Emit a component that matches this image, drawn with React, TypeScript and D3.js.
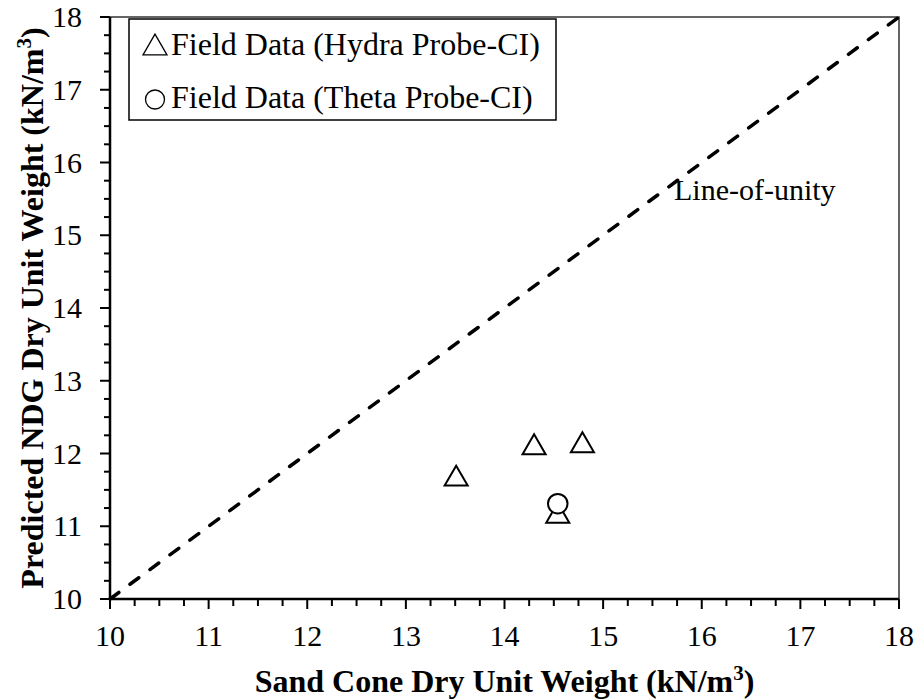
import { useRef, useEffect } from "react";
import * as d3 from "d3";

const hydraX = [13.51, 14.3, 14.79, 14.54];
const hydraY = [11.65, 12.08, 12.11, 11.14];
const thetaX = [14.54];
const thetaY = [11.31];
const xTicks = [10, 11, 12, 13, 14, 15, 16, 17, 18];
const yTicks = [10, 11, 12, 13, 14, 15, 16, 17, 18];
const legendLabels = ["Field Data (Hydra Probe-CI)", "Field Data (Theta Probe-CI)"];

const FONT = "Liberation Serif, Times New Roman, Times, serif";

const App = () => {
  const svgRef = useRef(null);

  useEffect(() => {
    const svg = d3.select(svgRef.current);
    svg.selectAll("*").remove();

    const left = 110, right = 899, top = 17, bottom = 599;
    const x = d3.scaleLinear().domain([10, 18]).range([left, right]);
    const y = d3.scaleLinear().domain([10, 18]).range([bottom, top]);

    // minor + major ticks, outward
    const minor = d3.range(10, 18.001, 0.25);
    svg.append("g").selectAll("line").data(minor).enter().append("line")
      .attr("x1", (d) => x(d)).attr("x2", (d) => x(d))
      .attr("y1", bottom).attr("y2", (d) => bottom + (Number.isInteger(d) ? 10 : 7))
      .attr("stroke", "black").attr("stroke-width", 2);
    svg.append("g").selectAll("line").data(minor).enter().append("line")
      .attr("y1", (d) => y(d)).attr("y2", (d) => y(d))
      .attr("x1", left).attr("x2", (d) => left - (Number.isInteger(d) ? 10 : 6))
      .attr("stroke", "black").attr("stroke-width", 2);

    // frame
    svg.append("rect")
      .attr("x", left).attr("y", top)
      .attr("width", right - left).attr("height", bottom - top)
      .attr("fill", "none").attr("stroke", "#333").attr("stroke-width", 1.5);
    svg.append("line").attr("x1", left).attr("x2", right).attr("y1", bottom).attr("y2", bottom)
      .attr("stroke", "black").attr("stroke-width", 2.5);
    svg.append("line").attr("x1", left).attr("x2", left).attr("y1", top).attr("y2", bottom)
      .attr("stroke", "black").attr("stroke-width", 2.5);

    // tick labels
    svg.append("g").selectAll("text").data(xTicks).enter().append("text")
      .attr("x", (d) => x(d)).attr("y", bottom + 47)
      .attr("text-anchor", "middle")
      .attr("font-family", FONT).attr("font-size", 30)
      .text((d) => d);
    svg.append("g").selectAll("text").data(yTicks).enter().append("text")
      .attr("x", 82).attr("y", (d) => y(d) + 10)
      .attr("text-anchor", "end")
      .attr("font-family", FONT).attr("font-size", 30)
      .text((d) => d);

    // axis titles
    const xt = svg.append("text")
      .attr("x", (left + right) / 2).attr("y", 692)
      .attr("text-anchor", "middle")
      .attr("font-family", FONT).attr("font-size", 32).attr("font-weight", "bold");
    xt.append("tspan").text("Sand Cone Dry Unit Weight (kN/m");
    xt.append("tspan").attr("dy", -12).attr("font-size", 21).text("3");
    xt.append("tspan").attr("dy", 12).text(")");

    const yt = svg.append("text")
      .attr("transform", `translate(43,${(top + bottom) / 2}) rotate(-90)`)
      .attr("text-anchor", "middle")
      .attr("font-family", FONT).attr("font-size", 32).attr("font-weight", "bold");
    yt.append("tspan").text("Predicted NDG Dry Unit Weight (kN/m");
    yt.append("tspan").attr("dy", -12).attr("font-size", 21).text("3");
    yt.append("tspan").attr("dy", 12).text(")");

    // line of unity
    svg.append("line")
      .attr("x1", x(10)).attr("y1", y(10)).attr("x2", x(18)).attr("y2", y(18))
      .attr("stroke", "black").attr("stroke-width", 3.5)
      .attr("stroke-linecap", "round")
      .attr("stroke-dasharray", "11,13.8");
    svg.append("text")
      .attr("x", 674).attr("y", 200)
      .attr("font-family", FONT).attr("font-size", 30)
      .text("Line-of-unity");

    const tri = d3.symbol().type(d3.symbolTriangle).size(230);
    const circ = d3.symbol().type(d3.symbolCircle).size(300);

    svg.append("g").selectAll("path").data(hydraX).enter().append("path")
      .attr("d", tri)
      .attr("transform", (d, i) => `translate(${x(d)},${y(hydraY[i])})`)
      .attr("fill", "white").attr("stroke", "black").attr("stroke-width", 2);
    svg.append("g").selectAll("path").data(thetaX).enter().append("path")
      .attr("d", circ)
      .attr("transform", (d, i) => `translate(${x(d)},${y(thetaY[i])})`)
      .attr("fill", "white").attr("stroke", "black").attr("stroke-width", 2);

    // legend
    const lg = svg.append("g");
    lg.append("rect")
      .attr("x", 129).attr("y", 19).attr("width", 427).attr("height", 101)
      .attr("fill", "white").attr("stroke", "black").attr("stroke-width", 1.5);
    const legendSyms = [
      { d: d3.symbol().type(d3.symbolTriangle).size(249)(), dy: -7 },
      { d: d3.symbol().type(d3.symbolCircle).size(283)(), dy: -8.5 },
    ];
    legendLabels.forEach((lab, i) => {
      const base = 55 + i * 53;
      lg.append("path").attr("d", legendSyms[i].d)
        .attr("transform", `translate(155,${base + legendSyms[i].dy})`)
        .attr("fill", "none").attr("stroke", "black").attr("stroke-width", 1.3);
      lg.append("text").attr("x", 171).attr("y", base)
        .attr("font-family", FONT).attr("font-size", 32)
        .text(lab);
    });
  }, []);

  return (
    <svg ref={svgRef} width={919} height={700} style={{ position: "absolute", left: 0, top: 0 }}></svg>
  );
};

export default App;
